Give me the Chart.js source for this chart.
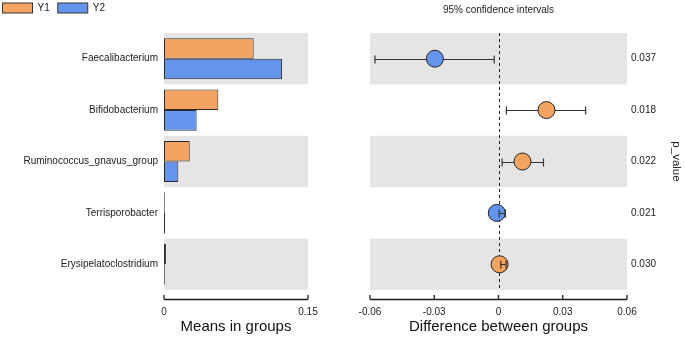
<!DOCTYPE html>
<html><head><meta charset="utf-8">
<script src="https://cdn.jsdelivr.net/npm/chart.js@4.4.1/dist/chart.umd.min.js"></script>
<style>
html,body{margin:0;padding:0;background:#fff;}
#wrap{position:relative;width:685px;height:337px;overflow:hidden;background:#fff;}
#c1{position:absolute;left:0;top:0;}
#c2{position:absolute;left:320px;top:0;}
</style></head><body>
<div id="wrap">
<canvas id="c1" width="320" height="337"></canvas>
<canvas id="c2" width="365" height="337"></canvas>
</div>
<script>
// ---------- data ----------
const taxa = ['Faecalibacterium','Bifidobacterium','Ruminococcus_gnavus_group','Terrisporobacter','Erysipelatoclostridium'];
const groupNames = ['Y1','Y2'];
const meanY1 = [0.0934, 0.0566, 0.0268, 0.0008, 0.0020];
const meanY2 = [0.1230, 0.0340, 0.0149, 0.0012, 0.0008];
const diffEst = [-0.0297, 0.0224, 0.0112, -0.0008, 0.0005];
const ciLow  = [-0.0577, 0.0037, 0.0017, 0.0003, 0.0011];
const ciHigh = [-0.0020, 0.0407, 0.0210, 0.0031, 0.0035];
const pValues = ['0.037','0.018','0.022','0.021','0.030'];
const meanTicks = [0, 0.15];
const diffTicks = [-0.06, -0.03, 0, 0.03, 0.06];

// ---------- style ----------
const colY1 = '#F4A460';
const colY2 = '#6495ED';
const bandCol = '#E5E5E5';
const inkCol = '#222222';
const FONT = "'Liberation Sans', Arial, Helvetica, sans-serif";
Chart.defaults.font.family = FONT;
Chart.defaults.color = inkCol;

function drawBands(chart){
  const {ctx, chartArea:a, scales:{y}} = chart;
  const n = y.getLabels().length;
  const half = (y.getPixelForValue(1) - y.getPixelForValue(0)) / 2;
  ctx.save();
  ctx.fillStyle = bandCol;
  for (let i = 0; i < n; i += 2){
    const c = y.getPixelForValue(i);
    ctx.fillRect(a.left, c - half, a.right - a.left, 2*half);
  }
  ctx.restore();
}
function drawBottomAxis(chart, ticks){
  const {ctx, chartArea:a, scales:{x}} = chart;
  const ly = Math.round(a.bottom + 9) + 0.5;
  ctx.save();
  ctx.strokeStyle = '#1a1a1a';
  ctx.lineWidth = 1.3;
  ctx.beginPath();
  ctx.moveTo(x.getPixelForValue(ticks[0]), ly);
  ctx.lineTo(x.getPixelForValue(ticks[ticks.length-1]), ly);
  ticks.forEach(v => {
    const px = x.getPixelForValue(v);
    ctx.moveTo(px, ly); ctx.lineTo(px, ly - 4.5);
  });
  ctx.stroke();
  ctx.restore();
}
function noSidePad(s){ s.height = 47; s.paddingLeft = 0; s.paddingRight = 0; }

// ---------- left: means in groups ----------
const leftPlugin = {
  id: 'leftDeco',
  beforeDatasetsDraw(chart){ drawBands(chart); },
  afterDraw(chart){
    drawBottomAxis(chart, meanTicks);
    // legend from the datasets
    const ctx = chart.ctx;
    ctx.save();
    ctx.font = '10px ' + FONT;
    ctx.textBaseline = 'middle';
    let xPos = 2.5;
    chart.data.datasets.forEach(ds => {
      ctx.fillStyle = ds.backgroundColor;
      ctx.fillRect(xPos, 3, 30, 10);
      ctx.strokeStyle = '#333';
      ctx.lineWidth = 1;
      ctx.strokeRect(xPos, 3, 30, 10);
      ctx.fillStyle = inkCol;
      ctx.fillText(ds.label, xPos + 35, 8.5);
      xPos += 35 + ctx.measureText(ds.label).width + 8;
    });
    ctx.restore();
  }
};

new Chart(document.getElementById('c1'), {
  type: 'bar',
  data: {
    labels: taxa,
    datasets: [
      {label: groupNames[0], data: meanY1, backgroundColor: colY1, borderColor: '#2a2a2a', borderWidth: 1, borderSkipped: false},
      {label: groupNames[1], data: meanY2, backgroundColor: colY2, borderColor: '#2a2a2a', borderWidth: 1, borderSkipped: false}
    ]
  },
  options: {
    indexAxis: 'y',
    responsive: false,
    animation: false,
    devicePixelRatio: 1,
    layout: {padding: {top: 33, right: 12, left: 0, bottom: 0}},
    datasets: {bar: {categoryPercentage: 0.8, barPercentage: 1.0}},
    plugins: {legend: {display: false}, tooltip: {enabled: false}},
    scales: {
      x: {
        type: 'linear', min: 0, max: 0.15, position: 'bottom',
        grid: {display: false, drawTicks: false}, border: {display: false},
        afterBuildTicks: s => { s.ticks = meanTicks.map(v => ({value: v})); },
        afterFit: noSidePad,
        ticks: {font: {size: 10}, color: inkCol, padding: 16, maxRotation: 0, callback: v => String(v)},
        title: {display: true, text: 'Means in groups', font: {size: 15}, color: '#111', padding: {top: 0, bottom: 1.5}}
      },
      y: {
        type: 'category',
        grid: {display: false, drawTicks: false}, border: {display: false},
        afterFit: s => { s.width = 164; },
        ticks: {font: {size: 10}, color: inkCol, padding: 6}
      }
    }
  },
  plugins: [leftPlugin]
});

// ---------- right: difference between groups ----------
const R = 8.5;
const rightPlugin = {
  id: 'rightDeco',
  beforeDatasetsDraw(chart){
    drawBands(chart);
    const {ctx, chartArea:a, scales:{x, y}} = chart;
    ctx.save();
    const x0 = Math.round(x.getPixelForValue(0)) + 0.5;
    ctx.strokeStyle = '#222';
    ctx.lineWidth = 1;
    ctx.setLineDash([3, 3]);
    ctx.beginPath(); ctx.moveTo(x0, a.top); ctx.lineTo(x0, a.bottom); ctx.stroke();
    ctx.setLineDash([]);
    ctx.restore();
    taxa.forEach((t, i) => drawErr(chart, i));
  },
  afterDatasetsDraw(chart){
    const {x} = chart.scales;
    taxa.forEach((t, i) => {
      const c = x.getPixelForValue(diffEst[i]);
      const lo = x.getPixelForValue(ciLow[i]), hi = x.getPixelForValue(ciHigh[i]);
      if (lo > c - R && hi < c + R + 0.5) drawErr(chart, i);
    });
  },
  afterDraw(chart){ drawBottomAxis(chart, diffTicks); }
};
function drawErr(chart, i){
  const {ctx, scales:{x, y}} = chart;
  const yc = Math.round(y.getPixelForValue(i)) + 0.5;
  const lo = x.getPixelForValue(ciLow[i]), hi = x.getPixelForValue(ciHigh[i]);
  ctx.save();
  ctx.strokeStyle = '#333';
  ctx.lineWidth = 1.2;
  ctx.beginPath();
  ctx.moveTo(lo, yc); ctx.lineTo(hi, yc);
  ctx.moveTo(lo, yc - 4); ctx.lineTo(lo, yc + 4);
  ctx.moveTo(hi, yc - 4); ctx.lineTo(hi, yc + 4);
  ctx.stroke();
  ctx.restore();
}

new Chart(document.getElementById('c2'), {
  type: 'scatter',
  data: {
    labels: taxa,
    datasets: [{
      data: taxa.map((t, i) => ({x: diffEst[i], y: t})),
      pointRadius: R, pointHoverRadius: R,
      backgroundColor: diffEst.map(d => d > 0 ? colY1 : colY2),
      borderColor: '#222', borderWidth: 1
    }]
  },
  options: {
    responsive: false,
    animation: false,
    devicePixelRatio: 1,
    layout: {padding: {top: 0, right: 0, left: 50, bottom: 0}},
    plugins: {
      legend: {display: false}, tooltip: {enabled: false},
      title: {display: true, text: '95% confidence intervals', fullSize: false, font: {size: 10, weight: 'normal'}, color: inkCol, padding: {top: 4, bottom: 17}}
    },
    scales: {
      x: {
        type: 'linear', min: -0.06, max: 0.06, position: 'bottom',
        grid: {display: false, drawTicks: false}, border: {display: false},
        afterBuildTicks: s => { s.ticks = diffTicks.map(v => ({value: v})); },
        afterFit: noSidePad,
        ticks: {font: {size: 10}, color: inkCol, padding: 16, maxRotation: 0, autoSkip: false, callback: v => String(v)},
        title: {display: true, text: 'Difference between groups', font: {size: 15}, color: '#111', padding: {top: 0, bottom: 1.5}}
      },
      y: {
        type: 'category', labels: taxa, position: 'right', offset: true,
        grid: {display: false, drawTicks: false}, border: {display: false},
        afterFit: s => { s.width = 58; },
        ticks: {font: {size: 10}, color: inkCol, padding: 4, callback: (v, i) => pValues[i]},
        title: {display: true, text: 'p_value', font: {size: 11.5}, color: inkCol, padding: {top: 1.5, bottom: 0}}
      }
    }
  },
  plugins: [rightPlugin]
});
</script>
</body></html>
